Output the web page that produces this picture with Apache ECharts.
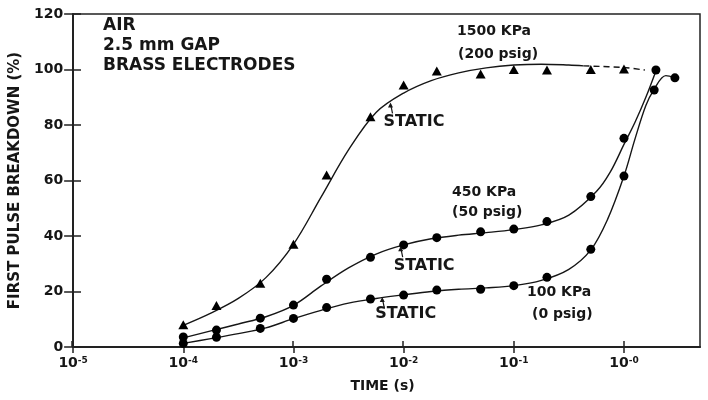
<!DOCTYPE html>
<html>
<head>
<meta charset="utf-8">
<script src="https://cdn.jsdelivr.net/npm/echarts@6/dist/echarts.min.js"></script>
<style>
html, body { margin: 0; padding: 0; background: #fff; }
#chart { width: 708px; height: 400px; }
</style>
</head>
<body>
<div id="chart"></div>
<script>
// first pulse breakdown vs time, air, 2.5 mm gap
var FONT = '"DejaVu Sans", sans-serif';
var INK = '#161616';

// ticks
var yTicks = [0, 20, 40, 60, 80, 100, 120];
var xDecades = [-5, -4, -3, -2, -1, 0];
var xDecadeSup = ['-5', '-4', '-3', '-2', '-1', '-0'];
var xMin = 1e-5;
var xMax = 4.9;

// measured points: time (s) / breakdown (%)
var t1500 = [1e-4, 2e-4, 5e-4, 1e-3, 2e-3, 5e-3, 1e-2, 2e-2, 5e-2, 0.1, 0.2, 0.5, 1.0];
var v1500 = [8, 15, 23, 37, 62, 83, 94.4, 99.5, 98.4, 100, 99.8, 100, 100.2];
var t450 = [1e-4, 2e-4, 5e-4, 1e-3, 2e-3, 5e-3, 1e-2, 2e-2, 5e-2, 0.1, 0.2, 0.5, 1.0, 1.95];
var v450 = [3.6, 6.1, 10.4, 15.1, 24.4, 32.3, 36.8, 39.4, 41.5, 42.5, 45.2, 54.2, 75.2, 99.8];
var t100 = [1e-4, 2e-4, 5e-4, 1e-3, 2e-3, 5e-3, 1e-2, 2e-2, 5e-2, 0.1, 0.2, 0.5, 1.0, 1.88, 2.9];
var v100 = [1.3, 3.5, 6.7, 10.3, 14.2, 17.3, 18.7, 20.5, 20.8, 22.1, 25.1, 35.2, 61.6, 92.6, 97];

// fitted curves (about every quarter decade)
var c1500t = [1e-4, 1.78e-4, 3.16e-4, 5.62e-4, 1e-3, 1.78e-3, 3.16e-3, 5.62e-3, 1e-2, 1.78e-2, 3.16e-2, 5.62e-2, 0.1, 0.178, 0.316, 0.43];
var c1500v = [7.8, 12.2, 17.5, 25, 37, 54, 71, 84.5, 91.5, 96, 98.8, 100.6, 101.6, 101.9, 101.6, 101.3];
var c1500tailT = [0.43, 1.0, 1.55];
var c1500tailV = [101.3, 100.7, 99.8];
var c450t = [1e-4, 1.78e-4, 3.16e-4, 5.62e-4, 1e-3, 1.78e-3, 3.16e-3, 5.62e-3, 1e-2, 1.78e-2, 3.16e-2, 5.62e-2, 0.1, 0.178, 0.316, 0.562, 0.75, 1.0, 1.26, 1.58, 1.95];
var c450v = [3.3, 5.8, 8.3, 10.9, 15, 22, 28.5, 33.5, 36.8, 39, 40.3, 41.2, 42.3, 44, 47.5, 56, 63, 73, 81, 90, 99.5];
var c100t = [1e-4, 1.78e-4, 3.16e-4, 5.62e-4, 1e-3, 1.78e-3, 3.16e-3, 5.62e-3, 1e-2, 1.78e-2, 3.16e-2, 5.62e-2, 0.1, 0.178, 0.316, 0.5, 0.71, 1.0, 1.26, 1.58, 1.86, 2.4, 2.9];
var c100v = [1.3, 3.0, 4.8, 6.9, 10.2, 13.2, 15.8, 17.5, 18.8, 20, 20.8, 21.3, 22.1, 24, 28, 35, 46, 61.6, 75, 87, 92.6, 97.8, 97];

// "STATIC" arrow tips (on the curves)
var staticTipT = [7.6e-3, 9.4e-3, 6.4e-3];
var staticTipV = [88.5, 36.7, 18.4];

function zip(a, b) {
    return a.map(function (x, i) { return [x, b[i]]; });
}

(function () {
    var chart = echarts.init(document.getElementById('chart'));
    var decadeVals = xDecades.map(function (e) { return Math.pow(10, e); });

    var gridBox = { left: 72, right: 8, top: 14, bottom: 53 };
    var lineStyle = { color: INK, width: 1.4 };
    var dot = { color: '#000', opacity: 1 };

    var option = {
        animation: false,
        backgroundColor: '#fff',
        grid: [
            Object.assign({ show: true, borderColor: '#222', borderWidth: 1.5 }, gridBox),
            Object.assign({}, gridBox)
        ],
        xAxis: [
            {
                type: 'log', logBase: 10, min: xMin, max: xMax, gridIndex: 0,
                name: 'TIME (s)', nameLocation: 'middle', nameGap: 32,
                nameTextStyle: { color: INK, fontFamily: FONT, fontWeight: 'bold', fontSize: 14, padding: [0, 8, 0, 0] },
                axisLine: { lineStyle: { color: '#222', width: 2 } },
                axisTick: { inside: false, length: 6, lineStyle: { color: '#222', width: 1.5 }, customValues: decadeVals },
                splitLine: { show: false },
                axisLabel: {
                    margin: 9,
                    customValues: decadeVals,
                    formatter: function (v) {
                        var e = Math.round(Math.log10(v));
                        var i = xDecades.indexOf(e);
                        return i < 0 ? '' : '{b|10}{s|' + xDecadeSup[i] + '}';
                    },
                    rich: {
                        b: { fontFamily: FONT, fontWeight: 'bold', fontSize: 14, color: INK },
                        s: { fontFamily: FONT, fontWeight: 'bold', fontSize: 9, color: INK, verticalAlign: 'top' }
                    }
                }
            },
            {
                type: 'log', logBase: 10, min: xMin, max: xMax, gridIndex: 1,
                axisLine: { show: false },
                axisTick: { inside: true, length: 6, lineStyle: { color: '#222', width: 1.5 }, customValues: decadeVals },
                axisLabel: { show: false },
                splitLine: { show: false }
            }
        ],
        yAxis: [
            {
                type: 'value', min: yTicks[0], max: yTicks[yTicks.length - 1],
                interval: yTicks[1] - yTicks[0], gridIndex: 0,
                name: 'FIRST PULSE BREAKDOWN (%)', nameLocation: 'middle', nameGap: 47,
                nameTextStyle: { color: INK, fontFamily: FONT, fontWeight: 'bold', fontSize: 15 },
                axisLine: { show: true, lineStyle: { color: '#222', width: 2 } },
                axisTick: { show: true, inside: false, length: 9, lineStyle: { color: '#222', width: 1.5 } },
                splitLine: { show: false },
                axisLabel: { margin: 10, color: INK, fontFamily: FONT, fontWeight: 'bold', fontSize: 14 }
            },
            {
                type: 'value', min: yTicks[0], max: yTicks[yTicks.length - 1],
                interval: yTicks[1] - yTicks[0], gridIndex: 1,
                axisLine: { show: false },
                axisTick: { show: true, inside: true, length: 9, lineStyle: { color: '#222', width: 1.5 } },
                axisLabel: { show: false },
                splitLine: { show: false }
            }
        ],
        series: [
            { type: 'line', smooth: 0.35, symbol: 'none', lineStyle: lineStyle, data: zip(c1500t, c1500v) },
            { type: 'line', smooth: 0.35, symbol: 'none', lineStyle: { color: INK, width: 1.4, type: [6, 4] }, data: zip(c1500tailT, c1500tailV) },
            { type: 'line', smooth: 0.35, symbol: 'none', lineStyle: lineStyle, data: zip(c450t, c450v) },
            { type: 'line', smooth: 0.35, symbol: 'none', lineStyle: lineStyle, data: zip(c100t, c100v) },
            { type: 'scatter', symbol: 'triangle', symbolSize: [10, 9], itemStyle: dot, z: 5, data: zip(t1500, v1500) },
            { type: 'scatter', symbol: 'circle', symbolSize: 9, itemStyle: dot, z: 5, data: zip(t450, v450) },
            { type: 'scatter', symbol: 'circle', symbolSize: 9, itemStyle: dot, z: 5, data: zip(t100, v100) }
        ]
    };
    chart.setOption(option);

    // annotations
    var txt = function (s, x, y, size) {
        return {
            type: 'text', z: 10,
            style: {
                text: s, x: x, y: y, fill: INK,
                font: 'bold ' + size + 'px ' + FONT,
                align: 'left', verticalAlign: 'middle',
                textAlign: 'left', textVerticalAlign: 'middle'
            }
        };
    };
    var g = [
        txt('AIR', 103, 26, 17),
        txt('2.5 mm GAP', 103, 46, 17),
        txt('BRASS ELECTRODES', 103, 66, 17),
        txt('1500 KPa', 457, 31, 14),
        txt('(200 psig)', 458, 54, 14),
        txt('450 KPa', 452, 192, 14),
        txt('(50 psig)', 452, 212, 14),
        txt('100 KPa', 527, 292, 14),
        txt('(0 psig)', 532, 314, 14)
    ];
    var dy = [20, 21, 18];
    staticTipT.forEach(function (t, i) {
        var p = chart.convertToPixel({ xAxisIndex: 0, yAxisIndex: 0 }, [t, staticTipV[i]]);
        var x = p[0], y = p[1] + 1;
        g.push({
            type: 'polyline', z: 10,
            shape: { points: [[x + 2, y + 11], [x + 1, y + 6], [x, y + 2]] },
            style: { stroke: INK, lineWidth: 1.2, fill: null }
        });
        g.push({
            type: 'polygon', z: 10,
            shape: { points: [[x - 2.5, y + 5], [x + 2.5, y + 5], [x, y]] },
            style: { fill: INK }
        });
        g.push(txt('STATIC', x - 7, p[1] + dy[i], 16));
    });
    chart.setOption({ graphic: g });
})();
</script>
</body>
</html>
